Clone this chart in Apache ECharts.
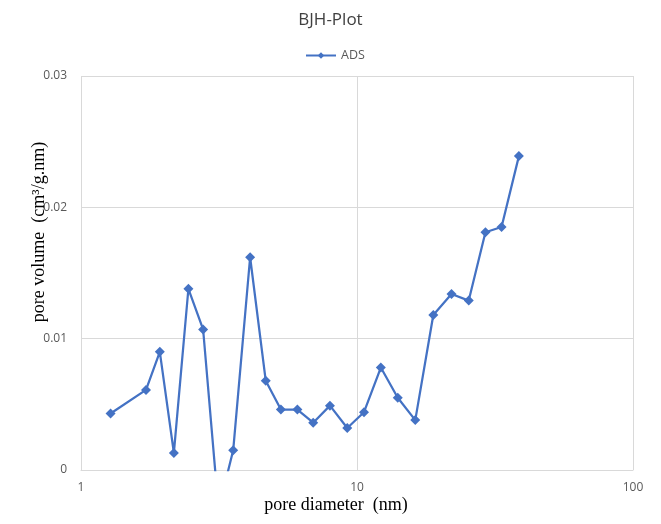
<!DOCTYPE html>
<html>
<head>
<meta charset="utf-8">
<script src="https://cdn.jsdelivr.net/npm/echarts@6/dist/echarts.min.js"></script>
<style>
  html, body { margin: 0; padding: 0; background: #fff; }
  #chart { width: 661px; height: 524px; }
</style>
</head>
<body>
<div id="chart"></div>
<script>
// pore diameter (nm)
const diameter = [1.28, 1.72, 1.93, 2.17, 2.45, 2.77, 3.15, 3.56, 4.10, 4.67, 5.30, 6.08, 6.94, 7.98, 9.22,
  10.6, 12.2, 14.05, 16.26, 18.9, 22.0, 25.4, 29.2, 33.4, 38.6];
// pore volume (cm3/g.nm)
const ads = [0.0043, 0.0061, 0.0090, 0.0013, 0.0138, 0.0107, -0.0030, 0.0015, 0.0162, 0.0068, 0.0046, 0.0046, 0.0036, 0.0049, 0.0032,
  0.0044, 0.0078, 0.0055, 0.0038, 0.0118, 0.0134, 0.0129, 0.0181, 0.0185, 0.0239];

const gridColor = '#d9d9d9';
const labelColor = '#595959';

const chart = echarts.init(document.getElementById('chart'));

const option = {
  title: {
    text: 'BJH-Plot',
    left: 'center',
    top: 7,
    textStyle: { fontFamily: 'Open Sans', fontSize: 17, fontWeight: 'normal', color: '#404040' }
  },
  legend: {
    data: ['ADS'],
    top: 44,
    left: 300,
    itemWidth: 30,
    itemHeight: 8,
    textStyle: { fontFamily: 'Open Sans', fontSize: 12.5, color: labelColor }
  },
  grid: { left: 81, right: 28, top: 76, bottom: 54 },
  xAxis: {
    type: 'log',
    logBase: 10,
    min: 1,
    max: 100,
    name: 'pore diameter  (nm)',
    nameLocation: 'middle',
    nameGap: 26,
    nameMoveOverlap: false,
    nameTextStyle: { fontFamily: 'Liberation Serif', fontSize: 18, color: '#000', padding: [0, 42, 0, 0] },
    axisLine: { show: true, lineStyle: { color: gridColor } },
    axisTick: { show: false },
    axisLabel: { color: labelColor, fontFamily: 'Open Sans', fontSize: 12, margin: 12 },
    splitLine: { show: true, lineStyle: { color: gridColor } }
  },
  yAxis: {
    type: 'value',
    min: 0,
    max: 0.03,
    interval: 0.01,
    name: 'pore volume  (cm³/g.nm)',
    nameLocation: 'middle',
    nameGap: 33,
    nameMoveOverlap: false,
    nameTextStyle: { fontFamily: 'Liberation Serif', fontSize: 18, color: '#000', padding: [0, 0, 0, 82] },
    axisLine: { show: false },
    axisTick: { show: false },
    axisLabel: { color: labelColor, fontFamily: 'Open Sans', fontSize: 12, margin: 14 },
    splitLine: { show: true, lineStyle: { color: gridColor } }
  },
  series: [
    {
      name: 'ADS',
      type: 'line',
      data: diameter.map((d, i) => [d, ads[i]]),
      symbol: 'diamond',
      symbolSize: 10,
      clip: true,
      lineStyle: { width: 2.25, color: '#4472c4' },
      itemStyle: { color: '#4472c4' }
    }
  ]
};

chart.setOption(option);
</script>
</body>
</html>
